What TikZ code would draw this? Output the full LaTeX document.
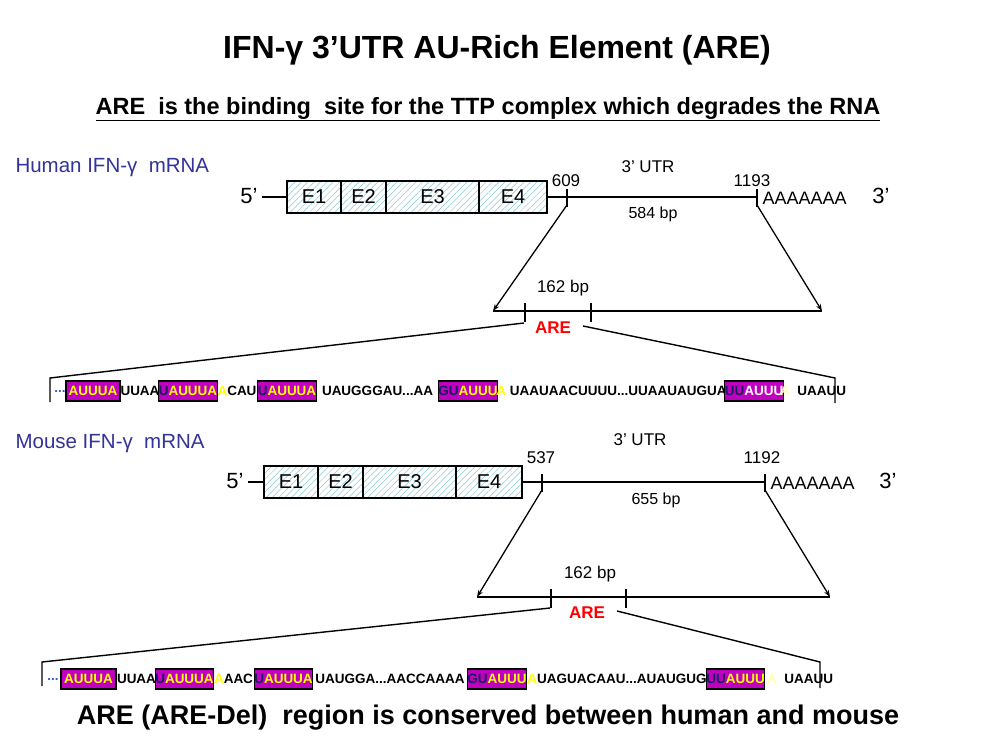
\documentclass[tikz,border=0pt]{standalone}
\usepackage{fontspec}
\setmainfont{Liberation Sans}
\usetikzlibrary{arrows.meta,patterns.meta}
\definecolor{mag}{HTML}{BF00BF}
\definecolor{lbl}{HTML}{333399}
\definecolor{hatchc}{HTML}{8CC8D8}
\definecolor{yel}{HTML}{FFFF00}
\definecolor{lyel}{HTML}{FFFFB0}
\definecolor{areR}{HTML}{FF0000}
\definecolor{dk}{HTML}{1A1A60}
\definecolor{dots}{HTML}{3060C0}
\begin{document}
\begin{tikzpicture}[x=1pt,y=-1pt,
  ln/.style={line width=1.4pt},
  tk/.style={line width=1.2pt},
  arr/.style={line width=1.3pt,-{Stealth[length=7pt,width=5pt]}},
  exon/.style={draw,line width=1.3pt,minimum height=32pt,inner sep=0pt,
     pattern={Lines[angle=45,distance=4.5pt,line width=0.5pt]},pattern color=hatchc,
     font=\fontsize{20}{22}\selectfont},
  ttl/.style={font=\bfseries\fontsize{32}{36}\selectfont},
  sub/.style={font=\bfseries\fontsize{23.5}{26}\selectfont},
  lab/.style={font=\fontsize{20.5}{23}\selectfont,text=lbl,anchor=west},
  num/.style={font=\fontsize{17}{20}\selectfont},
  big/.style={font=\fontsize{22}{24}\selectfont},
  polyA/.style={font=\fontsize{18}{20}\selectfont,anchor=west},
  are/.style={font=\bfseries\fontsize{17}{20}\selectfont,text=areR},
  seq/.style={font=\bfseries\fontsize{13.5}{15}\selectfont,inner sep=0pt},
  sbox/.style={draw,line width=1.3pt,fill=mag,minimum height=20pt,inner sep=0pt,
     font=\bfseries\fontsize{13.5}{15}\selectfont}
]
\useasboundingbox[fill=white] (0,0) rectangle (984,738);

% titles
\node[ttl] (title) at (497,50) {IFN-γ 3’UTR AU-Rich Element (ARE)};
\node[sub] (subt) at (488,109) {\underline{ARE\ \ is the binding\ \ site for the TTP complex which degrades the RNA}};

% ---------------- Human ----------------
\node[lab] (hlab) at (12,168) {Human IFN-γ\ \ mRNA};
\node[big] (h5) at (249,196) {5’};
\node[exon,minimum width=54pt] (hE1) at (314,197) {E1};
\node[exon,minimum width=45pt] (hE2) at (363.5,197) {E2};
\node[exon,minimum width=93pt] (hE3) at (432.5,197) {E3};
\node[exon,minimum width=68pt] (hE4) at (513,197) {E4};
\coordinate (hL0) at (262,197);
\coordinate (hT2) at (757,197);
\draw[ln] (hL0) -- (hE1.west);
\draw[ln] (hE4.east) -- (hT2);
\draw[tk] (567,189) -- (567,207);
\draw[tk] (757,189) -- (757,207);
\node[num] (h609) at (566,181) {609};
\node[num] (h1193) at (752,181) {1193};
\node[num] (hutr) at (648,167) {3’ UTR};
\node[num,font=\fontsize{16}{18}\selectfont] (hbp) at (653,214) {584 bp};
\node[polyA] (hA) at (759,198) {AAAAAAA};
\node[big] (h3) at (881,196) {3’};
\coordinate (hAl) at (493,311);
\coordinate (hAr) at (822,311);
\draw[arr] (567,205) -- (hAl);
\draw[arr] (757,205) -- (hAr);
\draw[ln] (hAl) -- (hAr);
\draw[tk] (525,303) -- (525,322);
\draw[tk] (591,303) -- (591,322);
\node[num] (h162) at (563,288) {162 bp};
\node[are] (hARE) at (553,328) {ARE};
\coordinate (hc1) at (50,378);
\coordinate (hc2) at (50,402);
\coordinate (hc3) at (835,378);
\coordinate (hc4) at (835,403);
\draw[ln] (524,323) -- (hc1) -- (hc2);
\draw[ln] (583,326) -- (hc3) -- (hc4);

% human sequence
\node[seq,text=dots] (hs0) at (60,391) {...};
\node[sbox,minimum width=54pt] (hb1) at (93,391) {\textcolor{yel}{AUUUA}};
\node[seq] (hs1) at (140,391) {UUAA};
\node[sbox,minimum width=56pt] (hb2) at (188,391) {\textcolor{dk}{U}\textcolor{yel}{AUUUA}};
\node[seq] (hs2) at (237,391) {\textcolor{yel}{A}CAU};
\node[sbox,minimum width=58pt] (hb3) at (287,391) {\textcolor{dk}{U}\textcolor{yel}{AUUUA}};
\node[seq] (hs3) at (377.5,391) {UAUGGGAU...AA};
\node[sbox,minimum width=58pt] (hb4) at (468,391) {\textcolor{dk}{GU}\textcolor{yel}{AUUU}};
\node[seq] (hs4) at (611.5,391) {\textcolor{yel}{A} UAAUAACUUUU...UUAAUAUGUA};
\node[sbox,minimum width=56pt] (hb5) at (754,391) {\textcolor{dk}{UU}\textcolor{white}{AUUU}};
\node[seq] (hs5) at (813,391) {\textcolor{lyel}{A}\ \ UAAUU};

% ---------------- Mouse ----------------
\node[lab] (mlab) at (12,444) {Mouse IFN-γ\ \ mRNA};
\node[big] (m5) at (235,481) {5’};
\node[exon,minimum width=54pt] (mE1) at (291,482) {E1};
\node[exon,minimum width=45pt] (mE2) at (340.5,482) {E2};
\node[exon,minimum width=93pt] (mE3) at (409.5,482) {E3};
\node[exon,minimum width=66pt] (mE4) at (489,482) {E4};
\coordinate (mL0) at (248,482);
\coordinate (mT2) at (765,482);
\draw[ln] (mL0) -- (mE1.west);
\draw[ln] (mE4.east) -- (mT2);
\draw[tk] (542,474) -- (542,492);
\draw[tk] (765,474) -- (765,492);
\node[num] (m537) at (541,458) {537};
\node[num] (m1192) at (762,458) {1192};
\node[num] (mutr) at (640,440) {3’ UTR};
\node[num,font=\fontsize{16}{18}\selectfont] (mbp) at (656,500) {655 bp};
\node[polyA] (mA) at (767,483) {AAAAAAA};
\node[big] (m3) at (888,481) {3’};
\coordinate (mAl) at (477,597);
\coordinate (mAr) at (830,597);
\draw[arr] (542,490) -- (mAl);
\draw[arr] (765,490) -- (mAr);
\draw[ln] (mAl) -- (mAr);
\draw[tk] (551,589) -- (551,608);
\draw[tk] (626,589) -- (626,608);
\node[num] (m162) at (590,574) {162 bp};
\node[are] (mARE) at (587,613) {ARE};
\coordinate (mc1) at (42,662);
\coordinate (mc2) at (42,686);
\coordinate (mc3) at (820,662);
\coordinate (mc4) at (820,688);
\draw[ln] (550,608) -- (mc1) -- (mc2);
\draw[ln] (617,611) -- (mc3) -- (mc4);

% mouse sequence
\node[seq,text=dots] (ms0) at (53,679) {...};
\node[sbox,minimum width=55pt] (mb1) at (88.5,679) {\textcolor{yel}{AUUUA}};
\node[seq] (ms1) at (136.5,679) {UUAA};
\node[sbox,minimum width=55pt] (mb2) at (184.5,679) {\textcolor{dk}{U}\textcolor{yel}{AUUUA}};
\node[seq] (ms2) at (233.5,679) {\textcolor{yel}{A}AAC};
\node[sbox,minimum width=57pt] (mb3) at (283.5,679) {\textcolor{dk}{U}\textcolor{yel}{AUUUA}};
\node[seq] (ms3) at (390,679) {UAUGGA...AACCAAAA};
\node[sbox,minimum width=58pt] (mb4) at (497,679) {\textcolor{dk}{GU}\textcolor{yel}{AUUU}};
\node[seq] (ms4) at (617,679) {\textcolor{yel}{A}UAGUACAAU...AUAUGUG};
\node[sbox,minimum width=55pt] (mb5) at (735.5,679) {\textcolor{dk}{UU}\textcolor{yel}{AUUU}};
\node[seq] (ms5) at (800,679) {\textcolor{lyel}{A}\ \ UAAUU};

% bottom
\node[font=\bfseries\fontsize{27}{30}\selectfont] (bot) at (488,718) {ARE (ARE-Del)\ \ region is conserved\ between human and mouse};
\end{tikzpicture}
\end{document}
